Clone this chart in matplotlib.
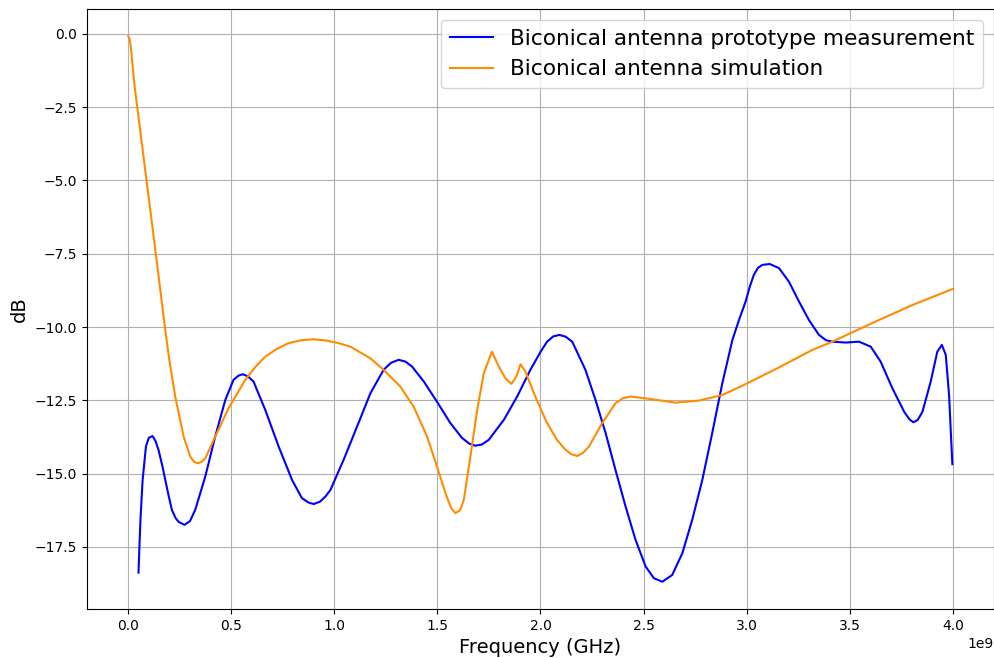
##### IMPORTS #####
import matplotlib
matplotlib.use("Agg")
import matplotlib.pyplot as plt
import numpy as np

#####################################################################################
# DATA SECTION
#####################################################################################

# Prototype measurement (frequency in GHz, level in dB)
meas_freq = [0.050, 0.055, 0.060, 0.070, 0.086, 0.100, 0.118, 0.132, 0.147, 0.165,
             0.180, 0.196, 0.212, 0.230, 0.245, 0.273, 0.300, 0.325, 0.374, 0.422,
             0.471, 0.511, 0.535, 0.555, 0.580, 0.608, 0.665, 0.730, 0.795, 0.843,
             0.875, 0.900, 0.930, 0.956, 0.981, 1.045, 1.110, 1.175, 1.239, 1.275,
             1.312, 1.345, 1.377, 1.434, 1.498, 1.563, 1.620, 1.655, 1.684, 1.715,
             1.749, 1.822, 1.887, 1.951, 2.000, 2.032, 2.062, 2.092, 2.122, 2.154,
             2.218, 2.267, 2.316, 2.364, 2.413, 2.461, 2.510, 2.550, 2.591, 2.639,
             2.688, 2.736, 2.785, 2.833, 2.882, 2.931, 2.963, 2.995, 3.015, 3.035,
             3.055, 3.076, 3.112, 3.157, 3.205, 3.254, 3.302, 3.351, 3.385, 3.416,
             3.481, 3.545, 3.602, 3.650, 3.707, 3.764, 3.790, 3.809, 3.830, 3.853,
             3.893, 3.925, 3.947, 3.966, 3.982, 3.998]
meas_db = [-18.38, -17.40, -16.50, -15.22, -14.08, -13.78, -13.72, -13.88, -14.19, -14.72,
           -15.22, -15.75, -16.24, -16.52, -16.65, -16.75, -16.62, -16.24, -15.10, -13.74,
           -12.49, -11.80, -11.66, -11.61, -11.68, -11.86, -12.83, -14.08, -15.22, -15.84,
           -15.99, -16.04, -15.96, -15.79, -15.56, -14.53, -13.40, -12.26, -11.46, -11.22,
           -11.12, -11.18, -11.35, -11.86, -12.55, -13.28, -13.79, -13.98, -14.05, -14.01,
           -13.85, -13.17, -12.37, -11.46, -10.85, -10.50, -10.32, -10.27, -10.33, -10.50,
           -11.46, -12.49, -13.62, -14.88, -16.13, -17.26, -18.17, -18.57, -18.69, -18.46,
           -17.72, -16.58, -15.22, -13.62, -11.92, -10.44, -9.76, -9.13, -8.63, -8.22,
           -7.98, -7.88, -7.85, -7.99, -8.45, -9.13, -9.76, -10.27, -10.45, -10.50,
           -10.53, -10.50, -10.67, -11.18, -12.09, -12.89, -13.15, -13.25, -13.17, -12.89,
           -11.86, -10.84, -10.61, -10.95, -12.32, -14.68]

# Simulation (frequency in GHz, level in dB)
sim_freq = [0.000, 0.006, 0.012, 0.020, 0.030, 0.044, 0.089, 0.134, 0.178, 0.200,
            0.228, 0.269, 0.301, 0.320, 0.338, 0.356, 0.374, 0.422, 0.487, 0.568,
            0.615, 0.665, 0.720, 0.778, 0.840, 0.900, 0.960, 1.021, 1.078, 1.175,
            1.239, 1.320, 1.385, 1.450, 1.498, 1.539, 1.565, 1.587, 1.610, 1.628,
            1.660, 1.693, 1.725, 1.764, 1.798, 1.830, 1.859, 1.883, 1.903, 1.927,
            1.968, 2.030, 2.080, 2.121, 2.150, 2.178, 2.205, 2.235, 2.299, 2.364,
            2.400, 2.437, 2.526, 2.655, 2.768, 2.882, 2.980, 3.157, 3.319, 3.416,
            3.513, 3.642, 3.804, 4.000]
sim_db = [-0.08, -0.15, -0.40, -0.98, -1.72, -2.50, -5.00, -7.50, -10.00, -11.15,
          -12.37, -13.74, -14.42, -14.60, -14.65, -14.60, -14.48, -13.74, -12.77, -11.80,
          -11.38, -11.01, -10.75, -10.55, -10.45, -10.42, -10.46, -10.55, -10.67, -11.07,
          -11.46, -12.03, -12.72, -13.74, -14.76, -15.67, -16.15, -16.35, -16.25, -15.90,
          -14.42, -12.83, -11.58, -10.84, -11.35, -11.75, -11.94, -11.69, -11.27, -11.52,
          -12.26, -13.25, -13.85, -14.19, -14.34, -14.40, -14.30, -14.08, -13.28, -12.60,
          -12.43, -12.37, -12.45, -12.58, -12.51, -12.32, -12.00, -11.38, -10.78, -10.50,
          -10.18, -9.76, -9.25, -8.70]

#####################################################################################
# PLOT SECTION
#####################################################################################

fig = plt.figure(figsize=(9.95, 6.58), dpi=100)
ax = fig.add_subplot(111)
fig.subplots_adjust(left=0.0874, right=0.999, top=0.9863, bottom=0.0745)

# x axis is in Hz, matplotlib shows the 1e9 offset
ax.plot(np.array(meas_freq) * 1e9, meas_db, color="blue",
        label="Biconical antenna prototype measurement")
ax.plot(np.array(sim_freq) * 1e9, sim_db, color="darkorange",
        label="Biconical antenna simulation")

ax.set_xlabel("Frequency (GHz)", fontsize=14)
ax.set_ylabel("dB", fontsize=14)
ax.grid(True)
ax.legend(loc="upper right", fontsize=15.6)

fig.savefig("out.png", dpi=100)
